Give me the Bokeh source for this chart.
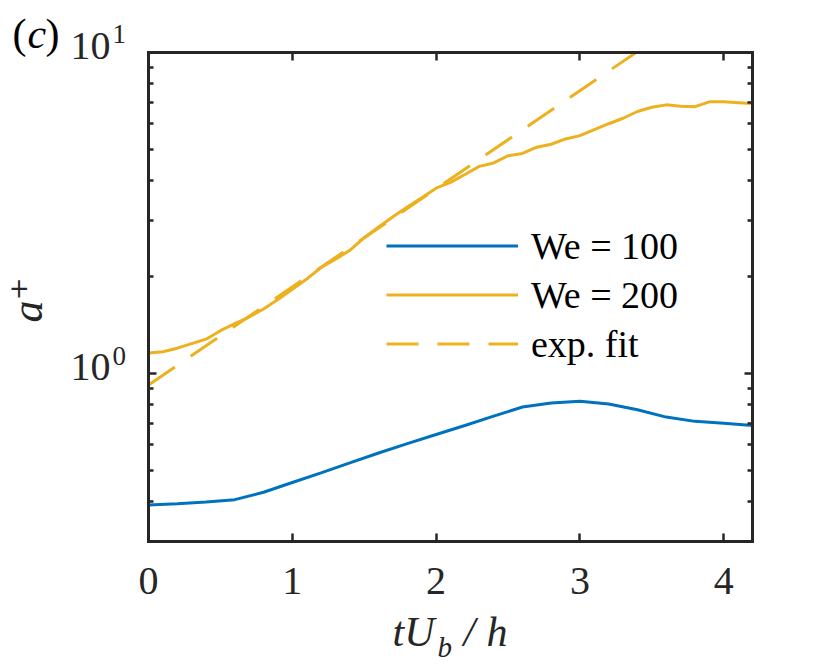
import math
from bokeh.plotting import figure
from bokeh.models import (LinearAxis, LogAxis, FixedTicker, Label, Legend,
                          LegendItem, CustomJSTickFormatter)
from bokeh.embed import file_html
from bokeh.resources import INLINE

# ---- data ----
t_we100 = [0.0, 0.2, 0.4, 0.6, 0.8, 1.0, 1.2, 1.4, 1.6, 1.8, 2.0, 2.2, 2.4,
           2.6, 2.8, 3.0, 3.2, 3.4, 3.6, 3.8, 4.0, 4.2]
a_we100 = [0.390, 0.393, 0.398, 0.405, 0.427, 0.458, 0.491, 0.527, 0.566,
           0.605, 0.646, 0.689, 0.737, 0.787, 0.810, 0.820, 0.804, 0.772,
           0.732, 0.710, 0.701, 0.689]

t_we200 = [0.0, 0.1, 0.2, 0.3, 0.4, 0.5, 0.6, 0.7, 0.8, 0.9, 1.0, 1.1, 1.2,
           1.3, 1.4, 1.5, 1.6, 1.7, 1.8, 1.9, 2.0, 2.1, 2.2, 2.3, 2.4, 2.5,
           2.6, 2.7, 2.8, 2.9, 3.0, 3.1, 3.2, 3.3, 3.4, 3.5, 3.6, 3.7, 3.8,
           3.9, 4.0, 4.1, 4.2]
a_we200 = [1.16, 1.17, 1.20, 1.24, 1.28, 1.36, 1.43, 1.50, 1.59, 1.70, 1.83,
           1.97, 2.14, 2.27, 2.42, 2.65, 2.86, 3.08, 3.30, 3.53, 3.78, 3.94,
           4.17, 4.42, 4.53, 4.77, 4.85, 5.07, 5.18, 5.38, 5.51, 5.75, 6.00,
           6.24, 6.55, 6.75, 6.87, 6.80, 6.78, 7.02, 7.02, 6.98, 6.94]

fit_t = [0.0, 3.39]
fit_a = [0.922, 10.0]

x_ticks = [0, 1, 2, 3, 4]
y_major = [1, 10]
y_minor = [0.4, 0.5, 0.6, 0.7, 0.8, 0.9, 2, 3, 4, 5, 6, 7, 8, 9]
legend_labels = ["We = 100", "We = 200", "exp. fit"]

# axes box limits
X_MIN, X_MAX = 0.0, 4.2
Y_MIN, Y_MAX = 0.3, 10.0

BLUE = "#0072BD"
GOLD = "#EDB120"
AX = "#262626"
FONT = "Liberation Serif"

# ---- layout (pixels) ----
W, H = 830, 671
BOX_L, BOX_R, BOX_T, BOX_B = 148, 752, 52, 541

sx = (X_MAX - X_MIN) / (BOX_R - BOX_L)
x_start = X_MIN - BOX_L * sx
x_end = X_MAX + (W - BOX_R) * sx
ly0, ly1 = math.log10(Y_MIN), math.log10(Y_MAX)
sy = (ly1 - ly0) / (BOX_B - BOX_T)
y_start = 10 ** (ly0 - (H - BOX_B) * sy)
y_end = 10 ** (ly1 + BOX_T * sy)

p = figure(width=W, height=H, y_axis_type="log", x_range=(x_start, x_end),
           y_range=(y_start, y_end), output_backend="svg",
           toolbar_location=None, title=None, min_border=0)
p.background_fill_color = "white"
p.border_fill_color = "white"
p.outline_line_color = None
p.xgrid.visible = False
p.ygrid.visible = False

xticker = FixedTicker(ticks=x_ticks, minor_ticks=[])
yticker = FixedTicker(ticks=y_major, minor_ticks=y_minor)
blank = CustomJSTickFormatter(code="return ''")


def style(ax):
    ax.axis_line_color = AX
    ax.axis_line_width = 3
    ax.axis_line_cap = "square"
    ax.major_tick_in = 8
    ax.major_tick_out = 0
    ax.minor_tick_in = 5
    ax.minor_tick_out = 0
    ax.major_tick_line_color = AX
    ax.minor_tick_line_color = AX
    ax.major_tick_line_width = 2.5
    ax.minor_tick_line_width = 2.5
    ax.major_label_text_font = FONT
    ax.major_label_text_font_size = "40px"
    ax.major_label_text_color = AX


xa = p.xaxis[0]
xa.ticker = xticker
xa.fixed_location = Y_MIN
xa.bounds = (X_MIN, X_MAX)
style(xa)
xa.major_label_standoff = 26

ya = p.yaxis[0]
ya.ticker = yticker
ya.formatter = blank
ya.fixed_location = X_MIN
ya.bounds = (Y_MIN, Y_MAX)
style(ya)

top = LinearAxis(ticker=xticker, formatter=blank, fixed_location=Y_MAX,
                 bounds=(X_MIN, X_MAX))
style(top)
p.add_layout(top, "above")
right = LogAxis(ticker=yticker, formatter=blank, fixed_location=X_MAX,
                bounds=(Y_MIN, Y_MAX))
style(right)
p.add_layout(right, "right")

r1 = p.line(t_we100, a_we100, line_color=BLUE, line_width=3)
r2 = p.line(t_we200, a_we200, line_color=GOLD, line_width=3)
r3 = p.line(fit_t, fit_a, line_color=GOLD, line_width=3, line_dash="32 19")

legend = Legend(items=[LegendItem(label=legend_labels[0], renderers=[r1]),
                       LegendItem(label=legend_labels[1], renderers=[r2]),
                       LegendItem(label=legend_labels[2], renderers=[r3])],
                location=(386, H - 368), padding=0, margin=0, spacing=0,
                glyph_width=132, glyph_height=49, label_height=49,
                label_standoff=13, border_line_color=None,
                background_fill_alpha=0, label_text_font=FONT,
                label_text_font_size="38px", label_text_color="black")
p.add_layout(legend, "center")


def lab(text, x, y, dx, dy, size, style="normal", align="left",
        baseline="alphabetic", angle=0.0, color=AX, font=FONT):
    p.add_layout(Label(x=x, y=y, x_offset=dx, y_offset=dy, text=text,
                       text_font=font, text_font_size=size,
                       text_font_style=style, text_align=align,
                       text_baseline=baseline, angle=angle,
                       text_color=color))


# y tick labels 10^0 and 10^1
lab("10", X_MIN, 1, -38, 7, "40px", align="right")
lab("0", X_MIN, 1, -36, 18, "27px")
lab("10", X_MIN, 10, -38, 7, "40px", align="right")
lab("1", X_MIN, 10, -36, 19, "27px")

# panel tag (c)
lab("(", X_MIN, Y_MAX, -136, 19, "42px", color="black")
lab("c", X_MIN, Y_MAX, -121, 19, "42px", style="italic", color="black")
lab(")", X_MIN, Y_MAX, -103, 19, "42px", color="black")

# x label  tU_b/h
lab("tU", X_MIN, Y_MIN, 244, -90, "42px", style="italic")
lab("b", X_MIN, Y_MIN, 289, -105, "29px", style="italic")
lab("/", X_MIN, Y_MIN, 315, -90, "42px", style="italic")
lab("h", X_MIN, Y_MIN, 338, -90, "42px", style="italic")

# y label a^+
lab("a\u207a", X_MIN, 1, -121, 51, "44px", style="italic",
    angle=math.pi / 2, font="Liberation Serif, DejaVu Serif")

open("out.html", "w").write(file_html(p, INLINE))
